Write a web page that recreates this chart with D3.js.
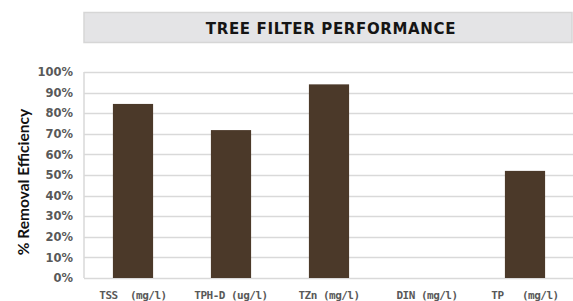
<!DOCTYPE html>
<html><head><meta charset="utf-8">
<script src="https://cdn.jsdelivr.net/npm/d3@7"></script>
<style>body{margin:0;background:#fff}svg{display:block}</style>
</head><body>
<script>
const categories = ["TSS  (mg/l)", "TPH-D (ug/l)", "TZn (mg/l)", "DIN (mg/l)", "TP   (mg/l)"];
const values = [0.845, 0.718, 0.94, null, 0.52];
const yTicks = [0,0.1,0.2,0.3,0.4,0.5,0.6,0.7,0.8,0.9,1.0];
const title = "TREE FILTER PERFORMANCE";
const yTitle = "% Removal Efficiency";

const W=573,H=301;
const svg=d3.select("body").append("svg").attr("width",W).attr("height",H);
const x=d3.scaleBand().domain(categories).range([84,574]).paddingInner(0.59).paddingOuter(0.295);
const y=d3.scaleLinear().domain([0,1]).range([278,72]);

// title box
svg.append("rect").attr("x",84).attr("y",12.5).attr("width",488).attr("height",30)
  .attr("fill","#e4e4e6").attr("stroke","#d6d6d6").attr("stroke-width",1.5);
svg.append("text").attr("x",331).attr("y",33.5).attr("text-anchor","middle")
  .attr("font-family","DejaVu Sans").attr("font-weight","bold").attr("font-size",15)
  .attr("letter-spacing",0.65).attr("fill","#151515").text(title);

// grid
svg.append("g").selectAll("line").data(yTicks).join("line")
  .attr("x1",84).attr("x2",573).attr("y1",d=>Math.round(y(d))+0.5).attr("y2",d=>Math.round(y(d))+0.5)
  .attr("stroke","#d9d9d9").attr("stroke-width",1.5);
svg.append("line").attr("x1",84).attr("x2",84).attr("y1",y(1)).attr("y2",y(0))
  .attr("stroke","#d9d9d9").attr("stroke-width",1.5);

// y axis labels
const yAxis=d3.axisLeft(y).tickValues(yTicks).tickFormat(d3.format(".0%")).tickSize(0).tickPadding(11);
const ga=svg.append("g").attr("transform","translate(84,0)").call(yAxis);
ga.select(".domain").remove();
ga.selectAll("text").attr("font-family","DejaVu Sans").attr("font-weight","bold").attr("font-size",11.5)
  .attr("fill","#595959");

// bars
svg.append("g").selectAll("rect").data(categories.map((c,i)=>({c,v:values[i]})).filter(d=>d.v!=null)).join("rect")
  .attr("x",d=>x(d.c)).attr("width",x.bandwidth()).attr("y",d=>y(d.v)).attr("height",d=>y(0)-y(d.v))
  .attr("fill","#4b3929");

// x labels
const xAxis=d3.axisBottom(x).tickSize(0).tickPadding(13);
const gx=svg.append("g").attr("transform","translate(0,278)").call(xAxis);
gx.select(".domain").remove();
gx.selectAll("text").attr("font-family","DejaVu Sans Mono").attr("font-weight","bold").attr("font-size",11)
  .attr("letter-spacing",-0.5).attr("fill","#595959").style("white-space","pre");

// y title
svg.append("text").attr("transform","translate(29,182) rotate(-90)").attr("text-anchor","middle")
  .attr("font-family","Lato").attr("font-weight","bold").attr("font-size",15.5).attr("fill","#111").text(yTitle);
</script>
</body></html>
